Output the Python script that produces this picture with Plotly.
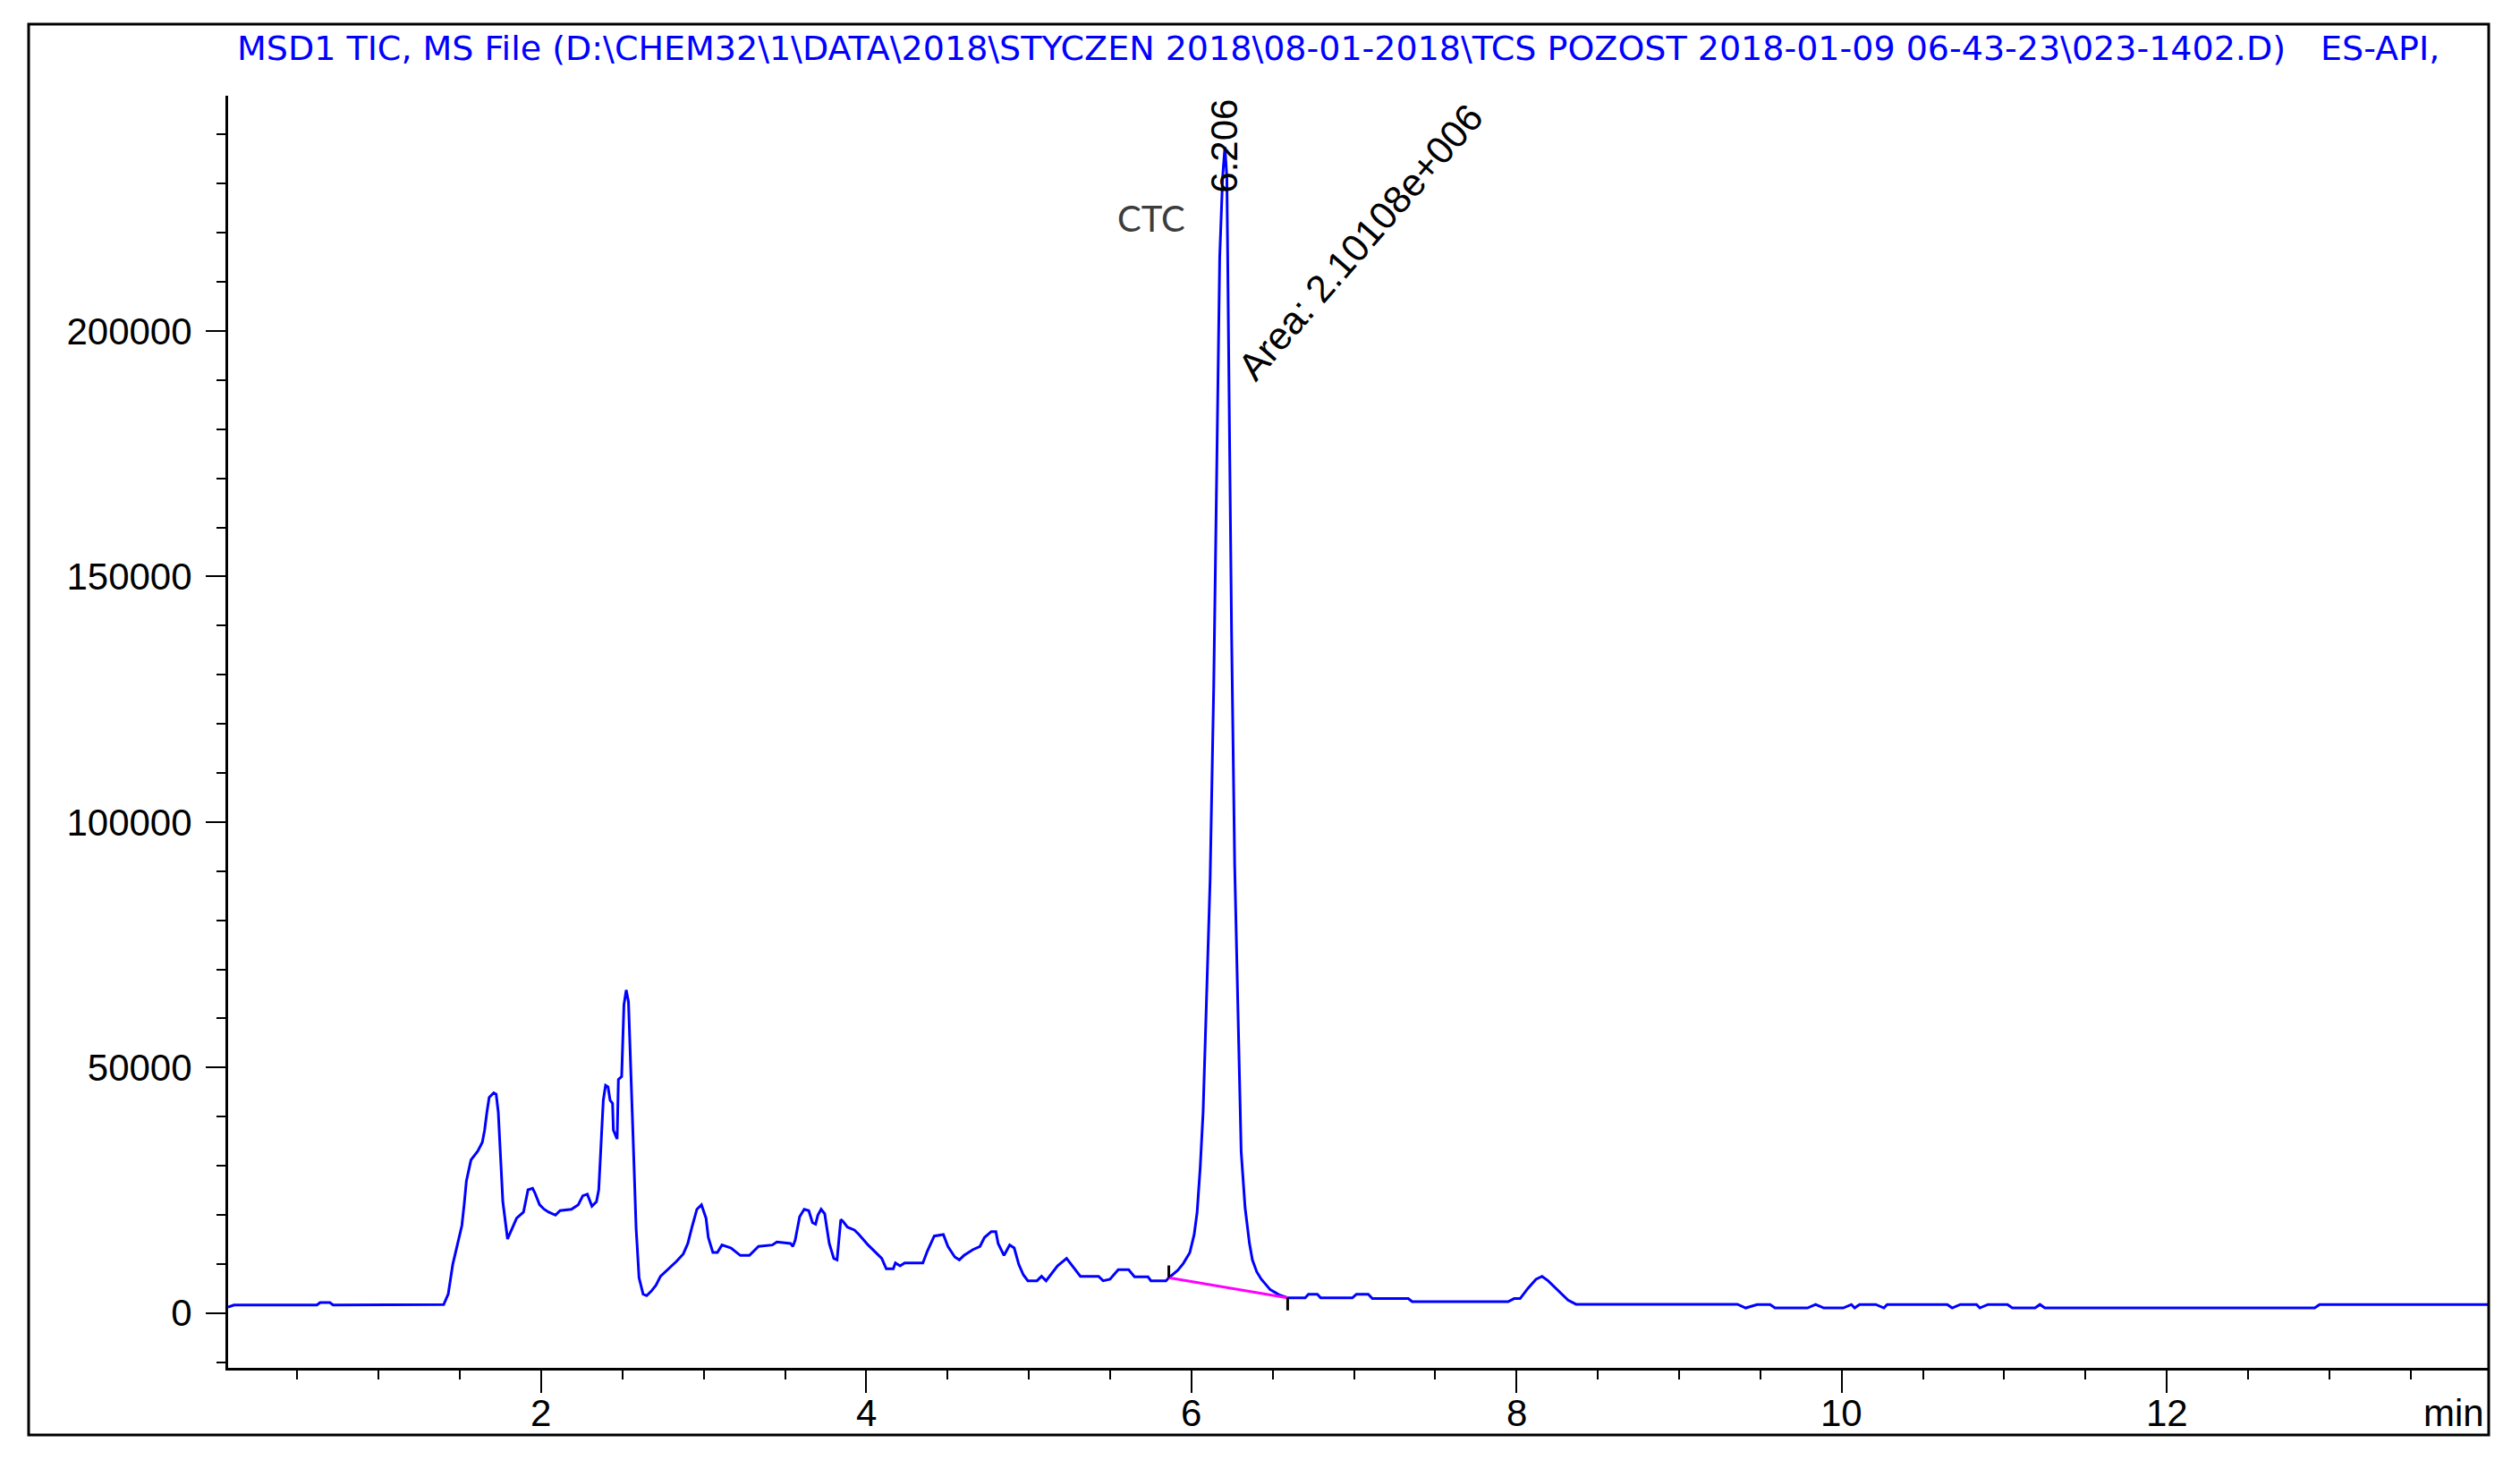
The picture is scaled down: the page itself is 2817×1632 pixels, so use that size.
import plotly.graph_objects as go

# ---------------- data ----------------
time_min = [
    0.074, 0.110, 0.620, 0.640, 0.700, 0.720, 1.400, 1.428, 1.456, 1.484,
    1.512, 1.526, 1.540, 1.568, 1.610, 1.638, 1.652, 1.666, 1.680, 1.708,
    1.723, 1.736, 1.751, 1.764, 1.793, 1.821, 1.849, 1.891, 1.919, 1.947,
    1.961, 1.990, 2.018, 2.046, 2.088, 2.116, 2.186, 2.228, 2.256, 2.284,
    2.312, 2.340, 2.354, 2.368, 2.382, 2.396, 2.411, 2.424, 2.439, 2.444,
    2.467, 2.475, 2.495, 2.509, 2.523, 2.537, 2.551, 2.565, 2.584, 2.602,
    2.627, 2.649, 2.677, 2.706, 2.734, 2.775, 2.832, 2.874, 2.902, 2.930,
    2.958, 2.986, 3.014, 3.028, 3.056, 3.084, 3.112, 3.168, 3.225, 3.281,
    3.337, 3.422, 3.450, 3.534, 3.548, 3.562, 3.590, 3.618, 3.646, 3.669,
    3.688, 3.702, 3.722, 3.744, 3.772, 3.800, 3.820, 3.843, 3.856, 3.884,
    3.927, 3.955, 4.011, 4.095, 4.123, 4.166, 4.179, 4.208, 4.236, 4.348,
    4.376, 4.418, 4.474, 4.502, 4.544, 4.572, 4.601, 4.657, 4.699, 4.727,
    4.769, 4.797, 4.811, 4.847, 4.882, 4.910, 4.938, 4.966, 4.994, 5.050,
    5.078, 5.106, 5.134, 5.176, 5.232, 5.275, 5.317, 5.429, 5.457, 5.499,
    5.550, 5.614, 5.650, 5.733, 5.751, 5.843, 5.861, 5.916, 5.950, 5.990,
    6.017, 6.035, 6.054, 6.072, 6.090, 6.115, 6.137, 6.155, 6.174, 6.192,
    6.206, 6.218, 6.229, 6.247, 6.266, 6.288, 6.306, 6.330, 6.357, 6.375,
    6.402, 6.430, 6.485, 6.540, 6.592, 6.700, 6.720, 6.775, 6.795, 6.990,
    7.015, 7.088, 7.113, 7.334, 7.358, 7.948, 7.985, 8.022, 8.071, 8.120,
    8.157, 8.194, 8.243, 8.317, 8.366, 9.359, 9.410, 9.480, 9.560, 9.590,
    9.790, 9.840, 9.890, 10.010, 10.060, 10.080, 10.110, 10.210, 10.260, 10.280,
    10.650, 10.680, 10.730, 10.830, 10.850, 10.900, 11.020, 11.050, 11.190, 11.220,
    11.250, 12.910, 12.940, 13.975,
]
tic_counts = [
    1200, 1650, 1650, 2150, 2150, 1650, 1730, 3850, 9930, 14180,
    17820, 22070, 26930, 31180, 33000, 34820, 37260, 40900, 43930, 44840,
    44550, 40900, 31180, 22680, 15090, 17220, 19330, 20550, 25110, 25420,
    24510, 22070, 21150, 20550, 19950, 20860, 21150, 22070, 23890, 24200,
    21770, 22680, 25110, 34220, 43330, 46370, 46060, 43330, 42730, 37260,
    35440, 47570, 48190, 62770, 65790, 63370, 51220, 36040, 17220, 7200,
    3850, 3550, 4460, 5670, 7490, 8710, 10530, 12040, 14180, 17820,
    21150, 22070, 19330, 15400, 12350, 12350, 13870, 13260, 11750, 11750,
    13570, 13870, 14480, 14180, 13570, 14780, 19640, 21150, 20860, 18420,
    18130, 19950, 21150, 20240, 14180, 11130, 10840, 19040, 18730, 17510,
    16910, 16000, 13870, 11130, 9020, 9020, 10220, 9620, 10220, 10220,
    12660, 15690, 16000, 13570, 11440, 10840, 11750, 12950, 13570, 15400,
    16600, 16600, 14180, 11750, 13870, 13260, 9930, 7800, 6580, 6580,
    7490, 6580, 7800, 9620, 11130, 9310, 7490, 7490, 6580, 6890,
    8830, 8830, 7380, 7380, 6580, 6580, 7200, 8710, 10100, 12300,
    16000, 20500, 29600, 41000, 60500, 88200, 127200, 172800, 215000, 231300,
    237500, 231300, 190600, 138600, 91400, 55600, 32900, 21500, 14200, 10840,
    8400, 6890, 4760, 3730, 3120, 3120, 3850, 3850, 3100, 3100,
    3850, 3850, 2960, 2960, 2330, 2330, 2960, 2960, 5070, 6890,
    7490, 6580, 5070, 2640, 1800, 1800, 1050, 1750, 1750, 1050,
    1050, 1750, 1050, 1050, 1750, 1050, 1750, 1750, 1050, 1750,
    1750, 1050, 1750, 1750, 1050, 1750, 1750, 1050, 1050, 1750,
    1050, 1050, 1750, 1750,
]

# integration baseline of the CTC peak
baseline_time = [5.861, 6.592]
baseline_counts = [7200, 3120]
# integration start / end markers
start_tick_time = [5.861, 5.861]
start_tick_counts = [7200, 9700]
end_tick_time = [6.592, 6.592]
end_tick_counts = [3120, 550]

x_tick_values = [2, 4, 6, 8, 10, 12]
x_tick_labels = ["2", "4", "6", "8", "10", "12"]

peak_rt_label = "6.206"
peak_area_label = "Area: 2.10108e+006"
peak_name = "CTC"
title_text = ("MSD1 TIC, MS File (D:\\CHEM32\\1\\DATA\\2018\\STYCZEN 2018\\08-01-2018"
              "\\TCS POZOST 2018-01-09 06-43-23\\023-1402.D)")
title_suffix = "ES-API,"

x_range = [0.074, 13.975]
y_range = [-11150, 247900]

# ---------------- layout geometry (pixels) ----------------
W, H = 2817, 1632
L, R, T, B = 255, 2781, 107, 1529


def px_x(X):
    return (X - L) / (R - L)


def px_y(Y):
    return (B - Y) / (B - T)


TICK_FONT = dict(family="Liberation Sans, Arial, sans-serif", size=42, color="black")

fig = go.Figure()
fig.add_trace(go.Scatter(x=time_min, y=tic_counts, mode="lines",
                         line=dict(color="#0000FF", width=3), hoverinfo="skip"))
fig.add_trace(go.Scatter(x=baseline_time, y=baseline_counts, mode="lines",
                         line=dict(color="#FF00FF", width=3), hoverinfo="skip"))
fig.add_trace(go.Scatter(x=start_tick_time, y=start_tick_counts, mode="lines",
                         line=dict(color="black", width=3), hoverinfo="skip"))
fig.add_trace(go.Scatter(x=end_tick_time, y=end_tick_counts, mode="lines",
                         line=dict(color="black", width=3), hoverinfo="skip"))

fig.update_layout(
    width=W, height=H,
    margin=dict(l=L, r=W - R, t=T, b=H - B, pad=0),
    paper_bgcolor="white", plot_bgcolor="white",
    showlegend=False,
    xaxis=dict(
        range=x_range, showgrid=False, zeroline=False,
        showline=True, linecolor="black", linewidth=3,
        tickmode="array", tickvals=x_tick_values, showticklabels=False,
        ticks="outside", ticklen=25, tickwidth=2, tickcolor="black",
        minor=dict(tickmode="linear", tick0=0, dtick=0.5, ticks="outside",
                   ticklen=10, tickwidth=2, tickcolor="black", showgrid=False),
    ),
    yaxis=dict(
        range=y_range, showgrid=False, zeroline=False,
        showline=True, linecolor="black", linewidth=3,
        tickmode="linear", tick0=0, dtick=50000, tickformat="d",
        ticks="outside", ticklen=22, tickwidth=2, tickcolor="black",
        minor=dict(tickmode="linear", tick0=0, dtick=10000, ticks="outside",
                   ticklen=10, tickwidth=2, tickcolor="black", showgrid=False),
        tickfont=TICK_FONT, ticklabelstandoff=7,
    ),
)

# x tick labels
for v, lab in zip(x_tick_values, x_tick_labels):
    fig.add_annotation(text=lab, x=v, xref="x", yref="paper", y=px_y(1579),
                       xanchor="center", yanchor="middle", showarrow=False,
                       font=TICK_FONT)

# outer frame
fig.add_shape(type="rect", xref="paper", yref="paper",
              x0=px_x(32), x1=px_x(2782), y0=px_y(1604), y1=px_y(27),
              line=dict(color="black", width=3), layer="above")

TITLE_FONT = dict(family="DejaVu Sans, sans-serif", size=38, color="#0000FF")
fig.add_annotation(text=title_text, xref="paper", yref="paper",
                   x=px_x(263), y=px_y(54), xanchor="left", yanchor="middle",
                   showarrow=False, font=TITLE_FONT)
fig.add_annotation(text=title_suffix, xref="paper", yref="paper",
                   x=px_x(2592), y=px_y(54), xanchor="left", yanchor="middle",
                   showarrow=False, font=TITLE_FONT)
fig.add_annotation(text="min", xref="paper", yref="paper",
                   x=px_x(2779), y=px_y(1580), xanchor="right", yanchor="middle",
                   showarrow=False, font=TICK_FONT)

# peak labels
fig.add_annotation(text=peak_rt_label, x=6.200, y=237600, textangle=-90,
                   xanchor="center", yanchor="middle", showarrow=False,
                   font=TICK_FONT)
fig.add_annotation(text=peak_area_label, x=7.04, y=218200, textangle=-49,
                   xanchor="center", yanchor="middle", showarrow=False,
                   font=dict(family="Liberation Sans, Arial, sans-serif", size=43, color="black"))
fig.add_annotation(text=peak_name, x=5.752, y=223000,
                   xanchor="center", yanchor="middle", showarrow=False,
                   font=dict(family="Lato, sans-serif", size=40, color="#3c3c3c"))

fig.write_html("out.html", config={"displayModeBar": False},
               post_script="document.body.style.margin='0';")
